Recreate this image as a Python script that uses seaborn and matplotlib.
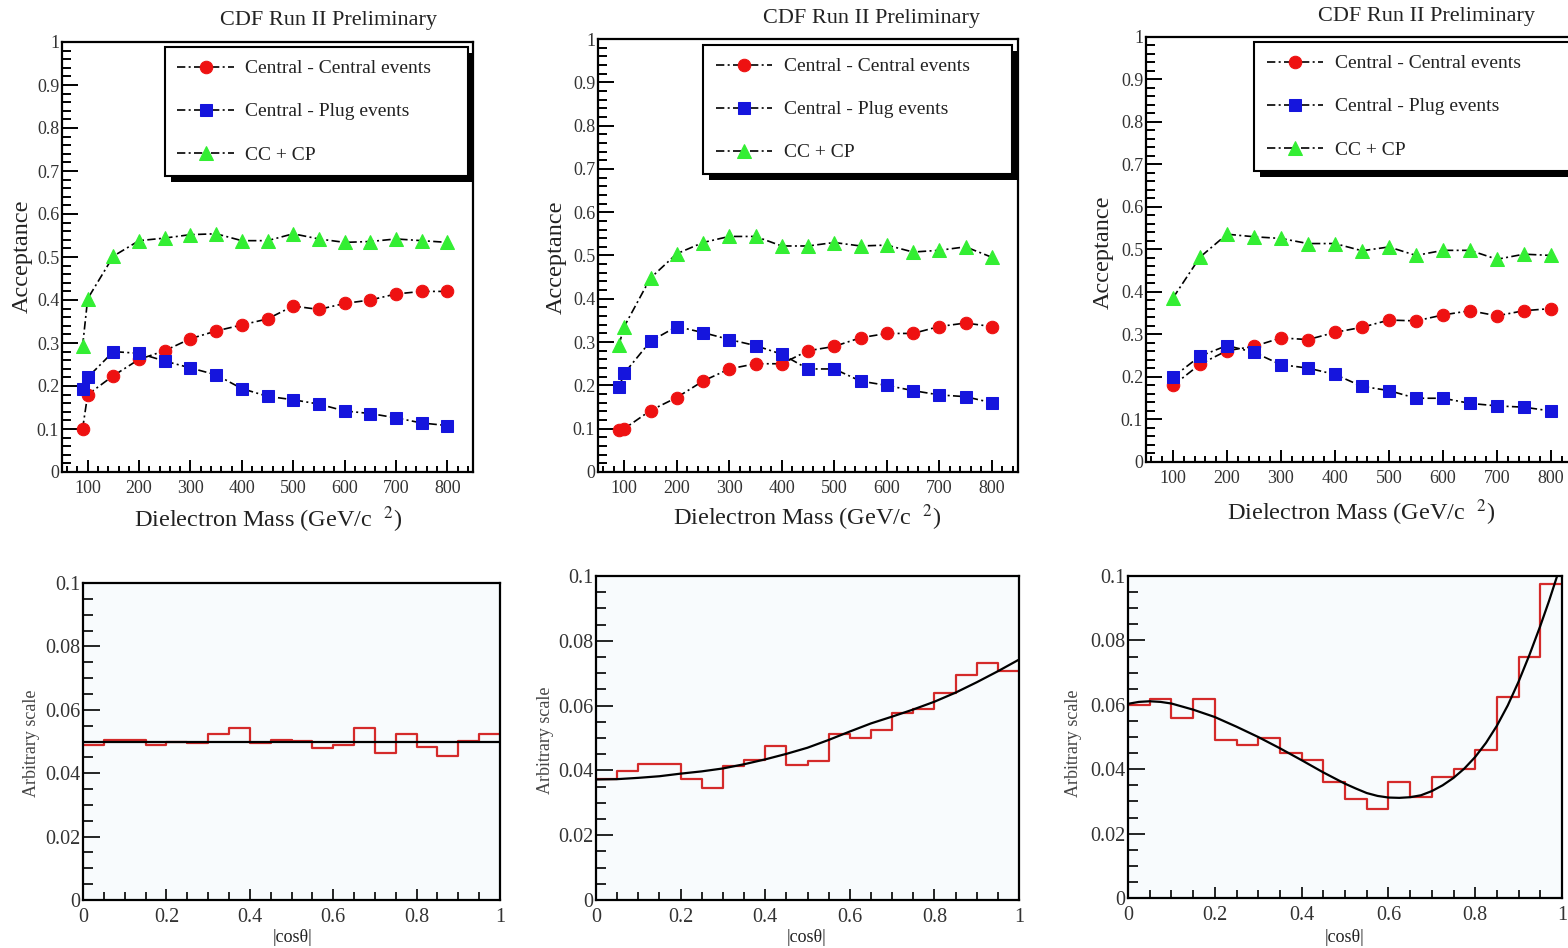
import numpy as np
import matplotlib
matplotlib.use("Agg")
import matplotlib.pyplot as plt
import seaborn as sns
from matplotlib.ticker import MultipleLocator, FuncFormatter
from matplotlib.patches import Rectangle
from matplotlib.transforms import IdentityTransform

# ---------------- data ----------------
mass_a = [90, 100, 150, 200, 250, 300, 350, 400, 450, 500, 550, 600, 650, 700, 750, 800]
cc_a = [0.10, 0.18, 0.224, 0.262, 0.282, 0.31, 0.328, 0.342, 0.356, 0.386, 0.378, 0.392, 0.40, 0.414, 0.42, 0.42]
cp_a = [0.194, 0.22, 0.28, 0.276, 0.258, 0.242, 0.226, 0.194, 0.176, 0.168, 0.158, 0.142, 0.136, 0.126, 0.114, 0.108]
sum_a = [0.292, 0.403, 0.502, 0.538, 0.544, 0.552, 0.554, 0.538, 0.538, 0.554, 0.542, 0.534, 0.536, 0.542, 0.538, 0.534]

mass_b = [90, 100, 150, 200, 250, 300, 350, 400, 450, 500, 550, 600, 650, 700, 750, 800]
cc_b = [0.096, 0.10, 0.142, 0.172, 0.21, 0.238, 0.25, 0.25, 0.28, 0.29, 0.31, 0.32, 0.32, 0.336, 0.344, 0.336]
cp_b = [0.196, 0.228, 0.302, 0.336, 0.322, 0.306, 0.292, 0.272, 0.238, 0.238, 0.21, 0.20, 0.188, 0.178, 0.174, 0.16]
sum_b = [0.294, 0.336, 0.448, 0.504, 0.53, 0.544, 0.544, 0.522, 0.522, 0.53, 0.522, 0.524, 0.508, 0.512, 0.52, 0.496]

mass_c = [100, 150, 200, 250, 300, 350, 400, 450, 500, 550, 600, 650, 700, 750, 800]
cc_c = [0.18, 0.23, 0.262, 0.272, 0.292, 0.288, 0.305, 0.317, 0.334, 0.332, 0.346, 0.356, 0.344, 0.356, 0.361]
cp_c = [0.20, 0.249, 0.274, 0.258, 0.229, 0.221, 0.206, 0.178, 0.168, 0.15, 0.15, 0.138, 0.132, 0.129, 0.12]
sum_c = [0.386, 0.482, 0.536, 0.53, 0.526, 0.514, 0.514, 0.497, 0.506, 0.486, 0.498, 0.498, 0.477, 0.489, 0.486]

legend_labels = ["Central - Central events", "Central - Plug events", "CC + CP"]

bin_edges = [0.0, 0.05, 0.1, 0.15, 0.2, 0.25, 0.3, 0.35, 0.4, 0.45, 0.5,
             0.55, 0.6, 0.65, 0.7, 0.75, 0.8, 0.85, 0.9, 0.95, 1.0]

hist_a = [0.049, 0.0506, 0.0506, 0.049, 0.05, 0.0496, 0.0525, 0.0543, 0.0496, 0.0504,
          0.05, 0.0478, 0.049, 0.0543, 0.0465, 0.0525, 0.0483, 0.0455, 0.05, 0.0525]
fit_a_x = [0.0, 1.0]
fit_a_y = [0.05, 0.05]

hist_b = [0.0372, 0.0399, 0.0421, 0.0421, 0.0372, 0.0347, 0.0414, 0.0432, 0.0475, 0.0416,
          0.0429, 0.0512, 0.050, 0.0524, 0.0576, 0.0588, 0.0639, 0.0694, 0.073, 0.0707]
fit_b_x = [0.0, 0.05, 0.1, 0.15, 0.2, 0.25, 0.3, 0.35, 0.4, 0.45, 0.5,
           0.55, 0.6, 0.65, 0.7, 0.75, 0.8, 0.85, 0.9, 0.95, 1.0]
fit_b_y = [0.0372, 0.0373, 0.0377, 0.0382, 0.039, 0.0397, 0.0406, 0.0419, 0.0434, 0.0451, 0.047,
           0.0494, 0.052, 0.0545, 0.0566, 0.0588, 0.0612, 0.064, 0.0672, 0.0706, 0.0742]

hist_c = [0.0598, 0.0619, 0.056, 0.0619, 0.0492, 0.0476, 0.0497, 0.045, 0.043, 0.036,
          0.0306, 0.0277, 0.036, 0.0314, 0.0376, 0.04, 0.0459, 0.0624, 0.075, 0.0976]
fit_c_x = [0.0, 0.025, 0.05, 0.075, 0.1, 0.15, 0.2, 0.25, 0.3, 0.35, 0.4, 0.45, 0.5,
           0.525, 0.55, 0.575, 0.6, 0.625, 0.65, 0.675, 0.7, 0.725, 0.75, 0.775, 0.8,
           0.825, 0.85, 0.875, 0.9, 0.925, 0.95, 0.97, 0.99]
fit_c_y = [0.0603, 0.0609, 0.0611, 0.0609, 0.0604, 0.0585, 0.0562, 0.0532, 0.050, 0.0465, 0.0428,
           0.039, 0.0355, 0.034, 0.0326, 0.0317, 0.0312, 0.0311, 0.0313, 0.0319, 0.0332,
           0.035, 0.0373, 0.0402, 0.0438, 0.0482, 0.0535, 0.0598, 0.0672, 0.0755, 0.0845,
           0.0922, 0.1005]

# ---------------- style ----------------
sns.set_theme(style="ticks")
plt.rcParams["font.family"] = ["Liberation Serif", "DejaVu Serif"]
plt.rcParams["mathtext.fontset"] = "stix"

W, H = 1568, 948
fig = plt.figure(figsize=(W / 100, H / 100), dpi=100)
fig.patch.set_facecolor("white")


def rect(l, t, r, b):
    return [l / W, 1 - b / H, (r - l) / W, (b - t) / H]


def ftext(x, y, s, **kw):
    fig.text(x / W, 1 - y / H, s, ha="center", va="center", **kw)


RED, BLUE, GREEN = "#ee1111", "#1515dd", "#33ee33"
LS = (0, (5, 2, 1.2, 2))
fmt = FuncFormatter(lambda v, p: f"{v:g}")


def style_axes(ax, xmaj, xmin, ymaj, ymin, lsize, xlen, ylen, tw):
    for s in ax.spines.values():
        s.set_color("black")
        s.set_linewidth(1.6)
        s.set_visible(True)
    ax.xaxis.set_major_locator(MultipleLocator(xmaj))
    ax.xaxis.set_minor_locator(MultipleLocator(xmin))
    ax.yaxis.set_major_locator(MultipleLocator(ymaj))
    ax.yaxis.set_minor_locator(MultipleLocator(ymin))
    ax.xaxis.set_major_formatter(fmt)
    ax.yaxis.set_major_formatter(fmt)
    ax.tick_params(axis="both", which="both", direction="in", top=False, right=False,
                   colors="black", labelcolor="#333333", labelsize=lsize, width=tw)
    ax.tick_params(axis="x", which="major", length=xlen[0], pad=6)
    ax.tick_params(axis="x", which="minor", length=xlen[1])
    ax.tick_params(axis="y", which="major", length=ylen[0], pad=2)
    ax.tick_params(axis="y", which="minor", length=ylen[1])
    ax.set_xlabel("")
    ax.set_ylabel("")


top_specs = [
    (rect(62, 42, 473, 472), mass_a, cc_a, cp_a, sum_a, (0.25, 0.988, 0.738)),
    (rect(598, 39, 1018, 472), mass_b, cc_b, cp_b, sum_b, (0.25, 0.986, 0.736)),
    (rect(1146, 37, 1578, 462), mass_c, cc_c, cp_c, sum_c, (0.25, 0.988, 0.76)),
]

top_axes = []
legends = []
for pos, mass, cc, cp, sm, (lx, ly, lw_) in top_specs:
    ax = fig.add_axes(pos)
    ax.set_facecolor("white")
    sns.lineplot(x=mass, y=cc, ax=ax, color="black", lw=1.2, linestyle=LS, marker="o",
                 markersize=9, markerfacecolor=RED, markeredgecolor=RED,
                 errorbar=None, label=legend_labels[0])
    sns.lineplot(x=mass, y=cp, ax=ax, color="black", lw=1.2, linestyle=LS, marker="s",
                 markersize=9, markerfacecolor=BLUE, markeredgecolor=BLUE,
                 errorbar=None, label=legend_labels[1])
    sns.lineplot(x=mass, y=sm, ax=ax, color="black", lw=1.2, linestyle=LS, marker="^",
                 markersize=9.5, markerfacecolor=GREEN, markeredgecolor=GREEN,
                 errorbar=None, label=legend_labels[2])
    ax.set_xlim(50, 850)
    ax.set_ylim(0, 1)
    style_axes(ax, 100, 20, 0.1, 0.02, 13, (9, 4.5), (11.5, 6.5), 1.4)
    leg = ax.legend(loc="upper left", bbox_to_anchor=(lx, ly - 0.5, lw_, 0.5), mode="expand",
                    frameon=True, fancybox=False, fontsize=14, handlelength=2.9,
                    handletextpad=0.6, labelspacing=1.31, borderpad=0.65,
                    borderaxespad=0.0)
    leg.get_frame().set_edgecolor("black")
    leg.get_frame().set_linewidth(1.5)
    leg.get_frame().set_facecolor("white")
    leg.get_frame().set_alpha(1)
    for t in leg.get_texts():
        t.set_color("#222222")
    top_axes.append(ax)
    legends.append(leg)

bot_specs = [
    (rect(83, 583, 500, 900), hist_a, fit_a_x, fit_a_y),
    (rect(596, 576, 1019, 900), hist_b, fit_b_x, fit_b_y),
    (rect(1128, 576, 1562, 898), hist_c, fit_c_x, fit_c_y),
]
centers = [(a + b) / 2 for a, b in zip(bin_edges[:-1], bin_edges[1:])]
for pos, hv, fx, fy in bot_specs:
    ax = fig.add_axes(pos)
    ax.set_facecolor("#f8fbfd")
    sns.histplot(x=centers, weights=hv, bins=bin_edges, element="step", fill=False,
                 color="#d42a2a", lw=1.6, ax=ax)
    sns.lineplot(x=fx, y=fy, ax=ax, color="black", lw=1.6, errorbar=None)
    ax.set_xlim(0, 1)
    ax.set_ylim(0, 0.1)
    style_axes(ax, 0.2, 0.05, 0.02, 0.005, 14.5, (8, 5.5), (12, 7), 1.2)

# titles and axis labels
for x, y in [(328, 20), (871, 18), (1427, 17)]:
    ftext(x, y, "CDF Run II Preliminary", fontsize=16, color="#222222")
for x, y in [(268, 520), (807, 518), (1361, 513)]:
    ftext(x, y, "Dielectron Mass (GeV/c  $^{2}$)", fontsize=17.5, color="#222222")
for x, y in [(22, 256), (556, 257), (1103, 252)]:
    ftext(x, y, "Acceptance", fontsize=17.5, rotation=90, color="#222222")
for x, y in [(292, 937), (807, 937), (1344, 937)]:
    ftext(x, y, "|cos\u03b8|", fontsize=13, color="#222222")
for x, y in [(32, 743), (545, 740), (1073, 743)]:
    ftext(x, y, "Arbitrary scale", fontsize=13, rotation=90, color="#444444")

# legend shadows
fig.canvas.draw()
for ax, leg in zip(top_axes, legends):
    bb = leg.get_window_extent()
    sh = Rectangle((bb.x0 + 6, bb.y0 - 6), bb.width, bb.height, transform=IdentityTransform(),
                   facecolor="black", edgecolor="none", zorder=leg.get_zorder() - 0.1,
                   clip_on=False)
    ax.add_patch(sh)

fig.savefig("out.png", dpi=100, facecolor="white")
